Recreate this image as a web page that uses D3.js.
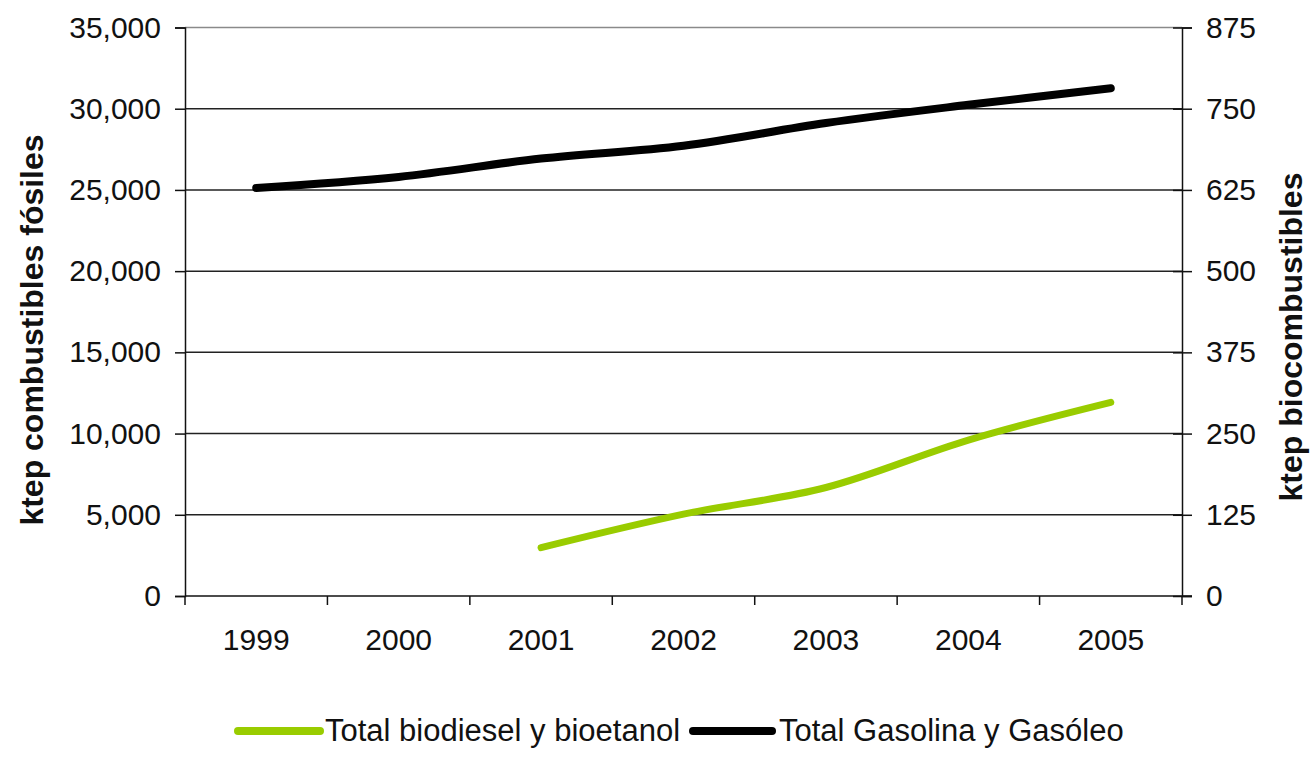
<!DOCTYPE html>
<html>
<head>
<meta charset="utf-8">
<script src="https://cdn.jsdelivr.net/npm/d3@7"></script>
<style>
  html, body { margin: 0; padding: 0; background: #fff; }
  svg { display: block; font-family: "Liberation Sans", Arial, sans-serif; }
</style>
</head>
<body>
<svg id="chart" width="1316" height="757"></svg>
<script>
// Years on the category axis
const years = ["1999", "2000", "2001", "2002", "2003", "2004", "2005"];
// Fossil fuels (left axis, ktep)
const fossilValues = [25120, 25800, 26930, 27720, 29120, 30240, 31260];
// Biofuels (right axis, ktep); no data before 2001
const bioValues = [null, null, 74.5, 126, 167, 240, 298];
// Axis ticks
const leftTicks = [0, 5000, 10000, 15000, 20000, 25000, 30000, 35000];
const rightTicks = [0, 125, 250, 375, 500, 625, 750, 875];
// Series names
const seriesNames = ["Total biodiesel y bioetanol", "Total Gasolina y Gasóleo"];
const seriesColors = ["#99cc00", "#000000"];
const axisTitles = ["ktep combustibles fósiles", "ktep biocombustibles"];

const svg = d3.select("#chart");
const plotLeft = 185, plotRight = 1182, plotTop = 27.5, plotBottom = 596;

const x = d3.scaleBand().domain(years).range([plotLeft, plotRight]).padding(0);
const cx = d => x(d) + x.bandwidth() / 2;
const yL = d3.scaleLinear().domain([0, 35000]).range([plotBottom, plotTop]);
const yR = d3.scaleLinear().domain([0, 875]).range([plotBottom, plotTop]);

const fmt = d3.format(",");

// Horizontal gridlines
svg.append("g").selectAll("line").data(leftTicks.filter(t => t > 0)).join("line")
  .attr("x1", plotLeft).attr("x2", plotRight)
  .attr("y1", d => yL(d)).attr("y2", d => yL(d))
  .attr("stroke", d => d === 35000 ? "#8a8a8a" : "#222")
  .attr("stroke-width", 1.5);

// Left axis
const gL = svg.append("g").attr("transform", `translate(${plotLeft},0)`)
  .call(d3.axisLeft(yL).tickValues(leftTicks).tickFormat(fmt).tickSize(10).tickPadding(14));
gL.select(".domain").attr("stroke", "#111").attr("stroke-width", 1.5);
gL.selectAll(".tick line").attr("stroke", "#111").attr("stroke-width", 1.5);
gL.selectAll(".tick text").attr("font-size", 30).attr("fill", "#111")
  .attr("font-family", "'Liberation Sans', Arial, sans-serif");

// Right axis (ticks cross the axis line)
const gR = svg.append("g").attr("transform", `translate(${plotRight},0)`)
  .call(d3.axisRight(yR).tickValues(rightTicks).tickSizeOuter(0).tickSize(10).tickPadding(14));
gR.select(".domain").attr("stroke", "#111").attr("stroke-width", 1.5);
gR.selectAll(".tick line").attr("x1", -9).attr("stroke", "#111").attr("stroke-width", 1.5);
gR.selectAll(".tick text").attr("font-size", 30).attr("fill", "#111")
  .attr("font-family", "'Liberation Sans', Arial, sans-serif");

// Bottom axis: line, boundary ticks, centered year labels
const gB = svg.append("g");
gB.append("line").attr("x1", plotLeft).attr("x2", plotRight + 10).attr("y1", plotBottom).attr("y2", plotBottom)
  .attr("stroke", "#111").attr("stroke-width", 1.5);
const bounds = years.map(d => x(d)).concat([plotRight]);
gB.selectAll("line.tk").data(bounds).join("line").attr("class", "tk")
  .attr("x1", d => d).attr("x2", d => d).attr("y1", plotBottom).attr("y2", plotBottom + 9)
  .attr("stroke", "#111").attr("stroke-width", 1.5);
gB.selectAll("text").data(years).join("text")
  .attr("x", d => cx(d)).attr("y", 650)
  .attr("text-anchor", "middle").attr("font-size", 30).attr("fill", "#111")
  .text(d => d);

// Axis titles
svg.append("text")
  .attr("transform", "translate(43,330) rotate(-90)")
  .attr("text-anchor", "middle").attr("font-size", 32).attr("font-weight", "bold").attr("fill", "#111")
  .text(axisTitles[0]);
svg.append("text")
  .attr("transform", "translate(1302,337) rotate(-90)")
  .attr("text-anchor", "middle").attr("font-size", 32).attr("font-weight", "bold").attr("fill", "#111")
  .text(axisTitles[1]);

// Smoothed series lines
const curve = d3.curveCatmullRom.alpha(0);
const lineL = d3.line().curve(curve).x(d => cx(d[0])).y(d => yL(d[1]));
const lineR = d3.line().curve(curve).x(d => cx(d[0])).y(d => yR(d[1]));

svg.append("path")
  .datum(years.map((y, i) => [y, fossilValues[i]]))
  .attr("d", lineL).attr("fill", "none")
  .attr("stroke", seriesColors[1]).attr("stroke-width", 8)
  .attr("stroke-linecap", "round").attr("stroke-linejoin", "round");

svg.append("path")
  .datum(years.map((y, i) => [y, bioValues[i]]).filter(d => d[1] != null))
  .attr("d", lineR).attr("fill", "none")
  .attr("stroke", seriesColors[0]).attr("stroke-width", 7)
  .attr("stroke-linecap", "round").attr("stroke-linejoin", "round");

// Legend
const legendItems = [
  { name: seriesNames[0], color: seriesColors[0], x1: 238, x2: 320, tx: 325 },
  { name: seriesNames[1], color: seriesColors[1], x1: 693, x2: 772, tx: 779 }
];
const lg = svg.append("g");
legendItems.forEach(it => {
  lg.append("line").attr("x1", it.x1).attr("x2", it.x2).attr("y1", 731).attr("y2", 731)
    .attr("stroke", it.color).attr("stroke-width", 8).attr("stroke-linecap", "round");
  lg.append("text").attr("x", it.tx).attr("y", 741).attr("font-size", 31).attr("fill", "#111")
    .text(it.name);
});
</script>
</body>
</html>
